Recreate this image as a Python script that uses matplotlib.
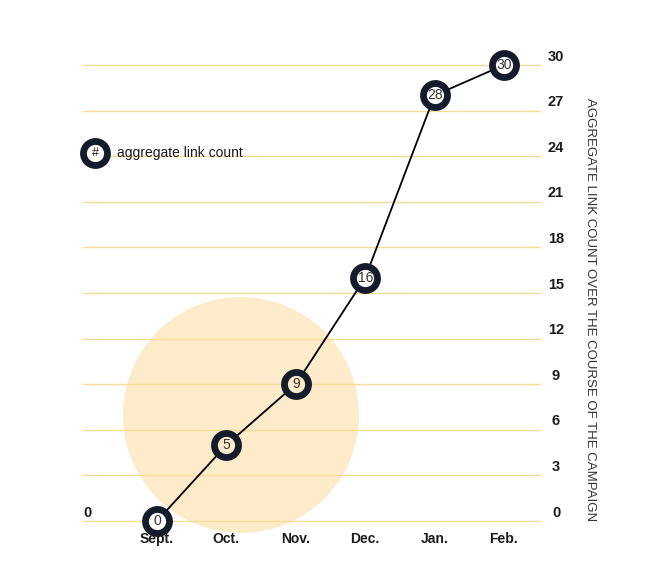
import matplotlib
matplotlib.use("Agg")
import matplotlib.pyplot as plt
from matplotlib.patches import Ellipse
import numpy as np

# ── Data ─────────────────────────────────────────────────────────────────────
months = ["Sept.", "Oct.", "Nov.", "Dec.", "Jan.", "Feb."]
link_count = [0, 5, 9, 16, 28, 30]
y_ticks = [0, 3, 6, 9, 12, 15, 18, 21, 24, 27, 30]

NAVY = "#141c2b"
GRID = "#f6dc98"
PEACH = "#fdebc9"
TEXT = "#1b1b1b"

plt.rcParams["font.family"] = ["Liberation Sans", "DejaVu Sans"]

PX_X, PX_Y = 69.4, 15.2   # pixels per data unit

fig = plt.figure(figsize=(6.5, 5.81), dpi=100)
ax = fig.add_axes([0, 0, 1, 1])
ax.set_xlim(-157 / PX_X, (650 - 157) / PX_X)
ax.set_ylim(-60 / PX_Y, 521 / PX_Y)
ax.axis("off")

# gridlines + right-hand tick labels
for v in y_ticks:
    ax.plot([-1.066, 5.52], [v, v], color=GRID, lw=1.0, zorder=1)
    ax.text(5.75, v + 0.55, str(v), ha="center", va="center",
            fontsize=10.5, fontweight="bold", color=TEXT)
ax.text(-1.0, 0.55, "0", ha="center", va="center",
        fontsize=10.5, fontweight="bold", color=TEXT)

# highlight circle
circ_cx, circ_cy, circ_r = 1.21, 6.97, 118  # centre in data, radius in px
ax.add_patch(Ellipse((circ_cx, circ_cy), width=2 * circ_r / PX_X,
                     height=2 * circ_r / PX_Y, facecolor=PEACH,
                     edgecolor="none", zorder=0))

x = np.arange(len(months))
ax.plot(x, link_count, color="black", lw=1.3, zorder=2)

for xi, yi in zip(x, link_count):
    inside = np.hypot((xi - circ_cx) * PX_X, (yi - circ_cy) * PX_Y) < circ_r - 10
    face = PEACH if inside else "white"
    ax.plot(xi, yi, marker="o", ms=17.3, mew=4.9, mec=NAVY, mfc=face, zorder=3)
    ax.text(xi, yi, str(yi), ha="center", va="center", fontsize=10,
            color="#333333", zorder=4)

for xi, m in zip(x, months):
    ax.text(xi, -1.18, m, ha="center", va="center", fontsize=10,
            fontweight="bold", color=TEXT)

# legend
ax.plot(-0.89, 24.2, marker="o", ms=17.3, mew=4.9, mec=NAVY, mfc="white", zorder=3)
ax.text(-0.89, 24.2, "#", ha="center", va="center", fontsize=9, color=TEXT, zorder=4)
ax.text(-0.58, 24.2, "aggregate link count", ha="left", va="center",
        fontsize=10, color=TEXT)

ax.text(6.24, 13.9, "AGGREGATE LINK COUNT OVER THE COURSE OF THE CAMPAIGN",
        rotation=-90, ha="center", va="center", fontsize=9.5, color="#333333")

fig.savefig("out.png", dpi=100, facecolor="white")
